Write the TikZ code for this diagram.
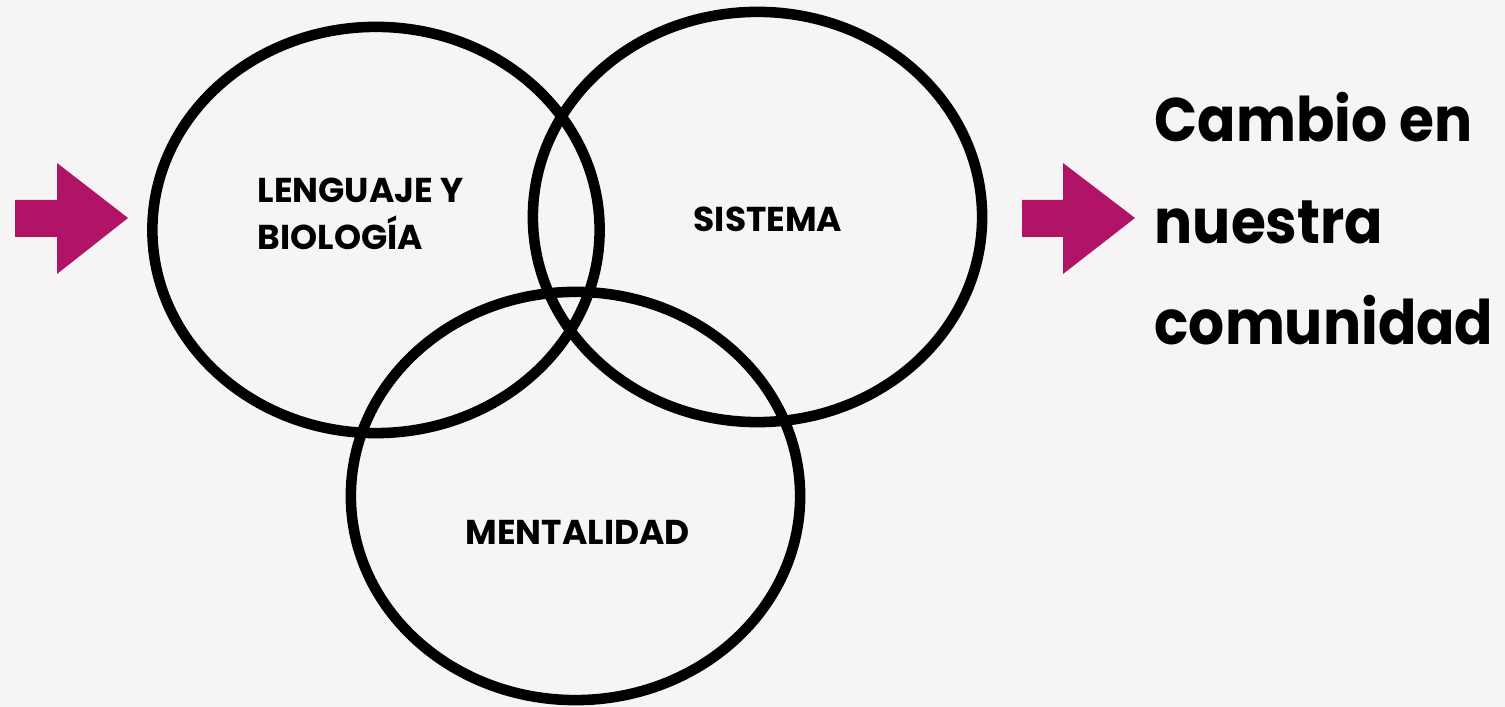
\documentclass[tikz,border=0pt]{standalone}
\usepackage{fontspec}
\setmainfont{Poppins}
\newfontfamily\resultfont[FakeStretch=0.92]{Poppins}
\usetikzlibrary{shapes.geometric}
\definecolor{arrowpink}{HTML}{B11467}
\definecolor{backgr}{HTML}{F6F4F5}
\tikzset{
  venn/.style={draw=black, line width=3pt, ellipse, inner sep=0pt},
  venntext/.style={anchor=base west, align=left, inner sep=0pt,
    font=\bfseries\fontsize{9.8}{13.4}\selectfont},
  resulttext/.style={anchor=base west, align=left, inner sep=0pt,
    font=\resultfont\bfseries\fontsize{17.5}{28.9}\selectfont}
}
\begin{document}
\begin{tikzpicture}[x=0.01cm,y=-0.01cm]
  \useasboundingbox (0,0) rectangle (1505,707);
  \fill[backgr] (0,0) rectangle (1505,707);
  \draw
    (376,230) node[venn, minimum width=4.47cm, minimum height=4.06cm] (biologia){}
    (757.5,217) node[venn, minimum width=4.49cm, minimum height=4.10cm] (sistema){}
    (575.5,496) node[venn, minimum width=4.49cm, minimum height=4.08cm] (mentalidad){};
  \node[venntext] (t1) at (257,250) {LENGUAJE Y\\BIOLOGÍA};
  \node[venntext] (t2) at (693,232) {SISTEMA};
  \node[venntext] (t3) at (465,545) {MENTALIDAD};
  \node[resulttext] (cambio) at (1154,345) {Cambio en\\nuestra\\comunidad};
  \fill[arrowpink] (15,200) -- (57,200) -- (57,163) -- (128,218)
    -- (57,274) -- (57,237) -- (15,237) -- cycle;
  \fill[arrowpink] (1022,200) -- (1063,200) -- (1063,163) -- (1135,218)
    -- (1063,274) -- (1063,237) -- (1022,237) -- cycle;
\end{tikzpicture}
\end{document}
